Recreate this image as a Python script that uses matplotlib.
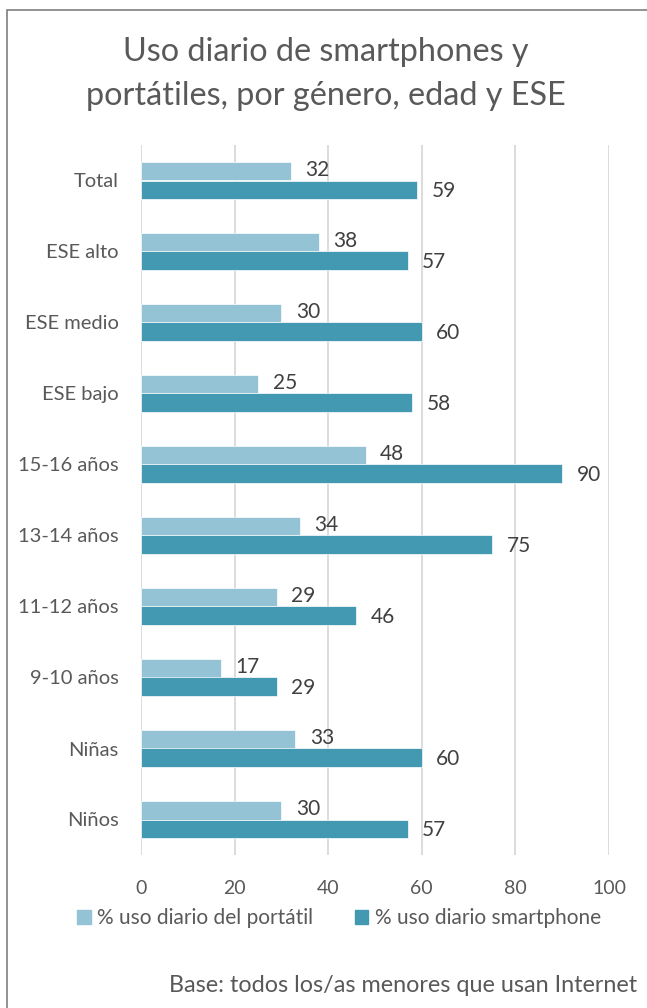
import matplotlib
matplotlib.use("Agg")
import matplotlib.pyplot as plt
from matplotlib.patches import Rectangle
import numpy as np

plt.rcParams['font.family'] = ['Lato', 'DejaVu Sans']

categories = ["Total", "ESE alto", "ESE medio", "ESE bajo", "15-16 años",
              "13-14 años", "11-12 años", "9-10 años", "Niñas", "Niños"]
portatil = [32, 38, 30, 25, 48, 34, 29, 17, 33, 30]
smartphone = [59, 57, 60, 58, 90, 75, 46, 29, 60, 57]
series_names = ["% uso diario del portátil", "% uso diario smartphone"]
x_ticks = [0, 20, 40, 60, 80, 100]

c_light = "#93C3D4"
c_dark = "#4399B1"
c_text = "#595959"

fig = plt.figure(figsize=(6.47, 10.08), dpi=100)
fig.patches.append(Rectangle((7 / 647, -0.1), 1.2, 1 - 10 / 1008 + 0.1,
                             transform=fig.transFigure, fill=False,
                             edgecolor="#7f7f7f", linewidth=1.2))

ax = fig.add_axes([141 / 647, 1 - 855 / 1008, 468 / 647, 710 / 1008])

n = len(categories)
pos = np.arange(n)[::-1].astype(float)
h = 0.26
ax.barh(pos + h / 2, portatil, height=h, color=c_light, edgecolor="white", linewidth=0.5)
ax.barh(pos - h / 2, smartphone, height=h, color=c_dark, edgecolor="white", linewidth=0.5)

for p, v in zip(pos, portatil):
    ax.text(v + 3.1, p + h / 2 + 0.02, str(v), va="center", ha="left",
            fontsize=15, color="#404040")
for p, v in zip(pos, smartphone):
    ax.text(v + 3.1, p - h / 2 - 0.02, str(v), va="center", ha="left",
            fontsize=15, color="#404040")

ax.set_xlim(0, 100)
ax.set_ylim(-0.5, n - 0.5)
ax.set_xticks(x_ticks)
ax.set_xticklabels([str(t) for t in x_ticks], fontsize=14, color=c_text)
ax.set_yticks(pos)
ax.set_yticklabels(categories, fontsize=14.5, color=c_text)
ax.tick_params(axis="both", length=0)
ax.tick_params(axis="y", pad=16)
ax.tick_params(axis="x", pad=18)
ax.grid(axis="x", color="#d9d9d9", linewidth=1.3)
ax.set_axisbelow(True)
for s in ax.spines.values():
    s.set_visible(False)

fig.text(326 / 647, 1 - 74 / 1008, "Uso diario de smartphones y\nportátiles, por género, edad y ESE",
         ha="center", va="center", fontsize=23.3, color=c_text, linespacing=1.55)

handles = [Rectangle((0, 0), 1, 1, color=c_light), Rectangle((0, 0), 1, 1, color=c_dark)]
fig.legend(handles, series_names, loc="center", bbox_to_anchor=(339 / 647, 1 - 918 / 1008),
           ncol=2, frameon=False, fontsize=15, labelcolor=c_text,
           handlelength=0.65, handleheight=0.65, handletextpad=0.3, columnspacing=2.0)

fig.text(637 / 647, 1 - 986 / 1008, "Base: todos los/as menores que usan Internet",
         ha="right", va="center", fontsize=16.8, color=c_text)

fig.savefig("out.png", dpi=100)
